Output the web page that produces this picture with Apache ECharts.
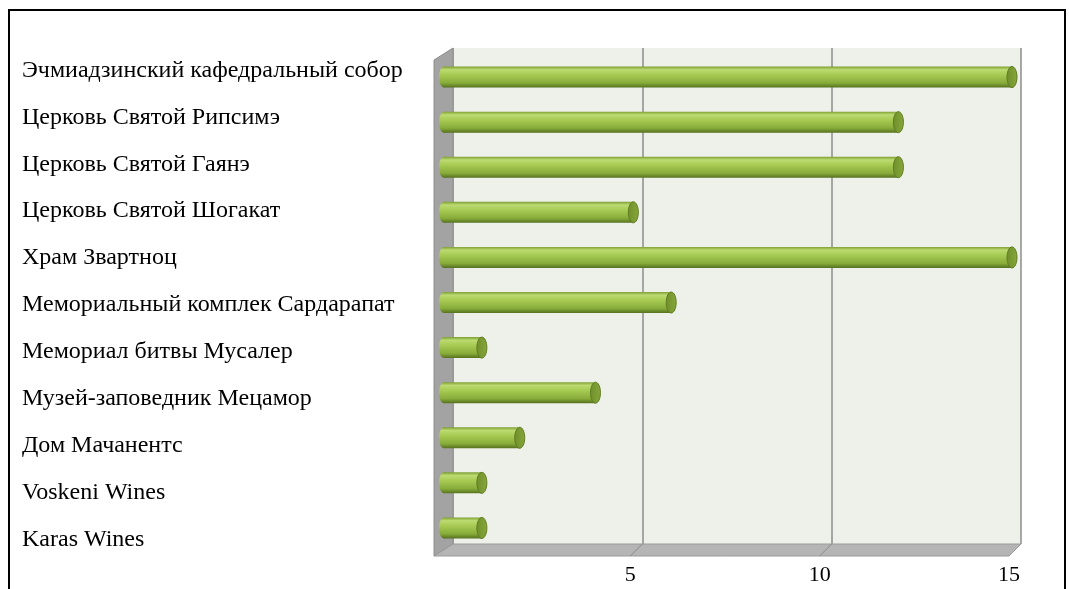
<!DOCTYPE html>
<html>
<head>
<meta charset="utf-8">
<script src="https://cdn.jsdelivr.net/npm/echarts@6/dist/echarts.min.js"></script>
<style>
    html, body { margin: 0; padding: 0; background: #fff; }
    #chart { width: 1069px; height: 589px; }
</style>
</head>
<body>
<div id="chart"></div>
<script>
var categories = [
    'Эчмиадзинский кафедральный собор',
    'Церковь Святой Рипсимэ',
    'Церковь Святой Гаянэ',
    'Церковь Святой Шогакат',
    'Храм Звартноц',
    'Мемориальный комплек Сардарапат',
    'Мемориал битвы Мусалер',
    'Музей-заповедник Мецамор',
    'Дом Мачанентс',
    'Voskeni Wines',
    'Karas Wines'
];
var values = [15, 12, 12, 5, 15, 6, 1, 4, 2, 1, 1];
var xTicks = [0, 5, 10, 15];

// back wall of the 3d box
var wall = { left: 453, top: 48, width: 568, height: 496 };
var depthX = 12, depthY = 12;   // floor depth
var sideX = 19;                 // left wall depth

var chart = echarts.init(document.getElementById('chart'));

var barData = values.map(function (v, i) { return [v, i]; });

function xAt(v) {
    return wall.left + v / xTicks[xTicks.length - 1] * wall.width;
}

var graphics = [];
// left wall
graphics.push({
    type: 'polygon', z: 1,
    shape: { points: [
        [wall.left, wall.top], [wall.left - sideX, wall.top + depthY],
        [wall.left - sideX, wall.top + wall.height + depthY], [wall.left, wall.top + wall.height]
    ] },
    style: { fill: '#a3a3a3', stroke: '#8e8e8e', lineWidth: 1 }
});
// floor
graphics.push({
    type: 'polygon', z: 1,
    shape: { points: [
        [wall.left, wall.top + wall.height], [wall.left + wall.width, wall.top + wall.height],
        [wall.left + wall.width - depthX, wall.top + wall.height + depthY],
        [wall.left - sideX, wall.top + wall.height + depthY]
    ] },
    style: { fill: '#b5b5b5', stroke: '#9a9a9a', lineWidth: 1 }
});
// grid lines continuing on the floor
xTicks.slice(1, -1).forEach(function (t) {
    graphics.push({
        type: 'line', z: 2,
        shape: { x1: xAt(t), y1: wall.top + wall.height, x2: xAt(t) - depthX, y2: wall.top + wall.height + depthY },
        style: { stroke: '#8a8a8a', lineWidth: 1 }
    });
});
// outer frame
graphics.push({
    type: 'rect', z: 0,
    shape: { x: 9, y: 10, width: 1056, height: 620 },
    style: { fill: null, stroke: '#000', lineWidth: 2 }
});

function renderBar(params, api) {
    var idx = api.value(1);
    var p0 = api.coord([0, idx]);
    var p1 = api.coord([api.value(0), idx]);
    var h = 21, rx = 5;
    var dx = -9, dy = 6.5;
    var x0 = p0[0] + dx, x1 = p1[0] + dx, cy = p0[1] + dy;
    var body = new echarts.graphic.LinearGradient(0, 0, 0, 1, [
        { offset: 0, color: '#7e9f33' },
        { offset: 0.15, color: '#bcdb72' },
        { offset: 0.4, color: '#a6ca52' },
        { offset: 0.78, color: '#88ac3a' },
        { offset: 1, color: '#56711f' }
    ]);
    var cap = new echarts.graphic.LinearGradient(0, 0, 1, 0, [
        { offset: 0, color: '#6f8e2b' },
        { offset: 1, color: '#87a83b' }
    ]);
    return {
        type: 'group',
        children: [
            { type: 'ellipse', shape: { cx: x0, cy: cy, rx: rx, ry: h / 2 }, style: { fill: body } },
            { type: 'rect', shape: { x: x0, y: cy - h / 2, width: x1 - x0, height: h }, style: { fill: body } },
            { type: 'ellipse', shape: { cx: x1, cy: cy, rx: rx, ry: h / 2 }, style: { fill: cap, stroke: '#5f7b22', lineWidth: 1 } }
        ]
    };
}

var option = {
    animation: false,
    backgroundColor: '#fff',
    textStyle: { fontFamily: 'Liberation Serif' },
    grid: [
        { left: wall.left, top: wall.top, width: wall.width, height: wall.height,
          show: true, backgroundColor: '#eef1ea', borderWidth: 0, z: 0 },
        // labels grid (perspective makes labels spread a bit more than bars)
        { left: wall.left, top: 47, width: wall.width, height: 516 }
    ],
    xAxis: [
        {
            type: 'value', gridIndex: 0, min: 0, max: 15, interval: 5,
            axisLine: { show: false }, axisTick: { show: false },
            splitLine: { show: true, lineStyle: { color: '#8c8c8c', width: 1.5 } },
            axisLabel: {
                color: '#000', fontSize: 22, fontFamily: 'Liberation Serif', margin: 20,
                padding: [0, 24, 0, 0],
                formatter: function (v) { return v === 0 ? '' : String(v); }
            }
        },
        { type: 'value', gridIndex: 1, min: 0, max: 15, show: false }
    ],
    yAxis: [
        { type: 'category', gridIndex: 0, inverse: true, data: categories, show: false },
        {
            type: 'category', gridIndex: 1, inverse: true, data: categories,
            axisLine: { show: false }, axisTick: { show: false },
            axisLabel: {
                color: '#000', fontSize: 24, fontFamily: 'Liberation Serif',
                align: 'left', margin: wall.left - 22
            }
        }
    ],
    graphic: graphics,
    series: [{
        type: 'custom',
        xAxisIndex: 0, yAxisIndex: 0,
        renderItem: renderBar,
        data: barData,
        z: 5
    }]
};

chart.setOption(option);
</script>
</body>
</html>
